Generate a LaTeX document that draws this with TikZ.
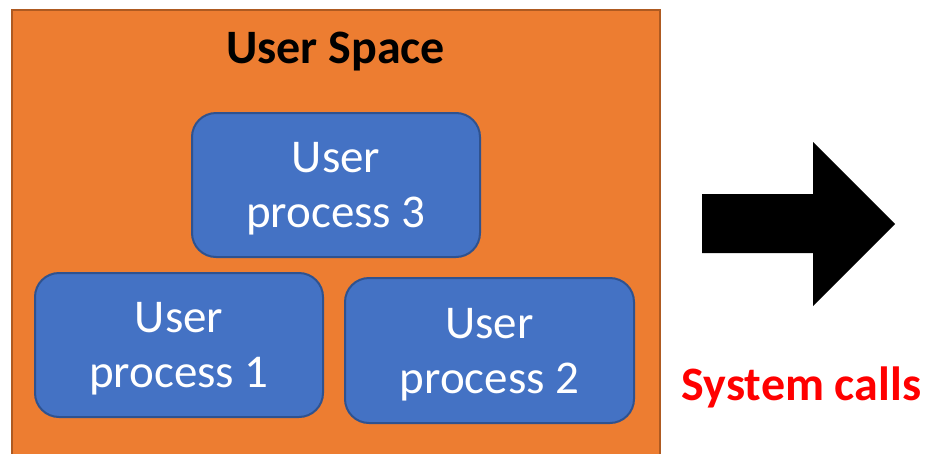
\documentclass[tikz,border=0pt]{standalone}
\usepackage{fontspec}
\setmainfont{Carlito}
\definecolor{spaceorange}{HTML}{ED7D31}
\definecolor{spaceedge}{HTML}{AE5A21}
\definecolor{procblue}{HTML}{4472C4}
\definecolor{procedge}{HTML}{2F528F}
\definecolor{callred}{HTML}{FF0000}
\begin{document}
\begin{tikzpicture}[x=1pt, y=-1pt,
  proc/.style={draw=procedge, line width=2pt, fill=procblue,
    rounded corners=24pt, text=white, align=center,
    font=\fontsize{47}{55}\selectfont, text depth=0pt,
    minimum width=288pt, minimum height=144pt, inner sep=0pt},
  heading/.style={font=\fontsize{48}{56}\selectfont\bfseries, inner sep=0pt, anchor=base}]
\useasboundingbox (0,0) rectangle (927,453);
\clip (0,0) rectangle (927,453);

% user space area, running off the bottom edge
\draw[fill=spaceorange, draw=spaceedge, line width=2pt] (12,10) rectangle (660,480);
\node[heading] (title) at (335.5,63) {User Space};

% user processes
\node[proc] (p3) at (336,185) {User\\process 3};
\node[proc] (p1) at (179,345) {User\\process 1};
\node[proc, minimum width=289pt, minimum height=145pt] (p2) at (489.5,350.5) {User\\process 2};

% block arrow towards the kernel
\coordinate (a1) at (702,194);
\coordinate (a2) at (813,194);
\coordinate (a3) at (813,142);
\coordinate (tip) at (895,224);
\coordinate (a5) at (813,306);
\coordinate (a6) at (813,253);
\coordinate (a7) at (702,253);
\fill[black] (a1) -- (a2) -- (a3) -- (tip) -- (a5) -- (a6) -- (a7) -- cycle;

\node[heading, text=callred] (calls) at (801.5,400) {System calls};
\end{tikzpicture}
\end{document}
